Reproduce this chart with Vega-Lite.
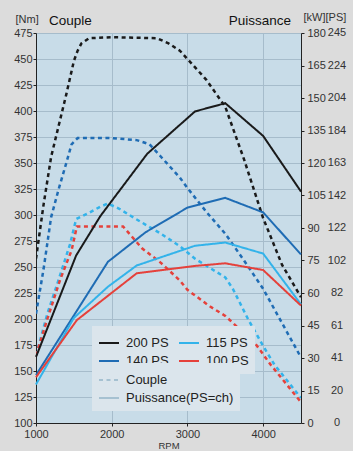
{
  "$schema": "https://vega.github.io/schema/vega-lite/v6.json",
  "width": 265,
  "height": 390,
  "autosize": {"type": "none"},
  "padding": {"left": 36, "top": 33, "right": 52, "bottom": 28},
  "background": "#dcdcdc",
  "config": {
    "view": {"fill": "#c8dce8", "stroke": null},
    "font": "Liberation Sans",
    "axis": {
      "labelFont": "Liberation Sans", "labelFontSize": 11, "labelColor": "#333333",
      "domainColor": "#222222", "tickColor": "#222222", "gridColor": "#a6bccb",
      "tickSize": 3, "titleFont": "Liberation Sans", "titleFontWeight": "normal", "titleColor": "#333333",
      "labelOverlap": false
    },
    "legend": {"labelFont": "Liberation Sans"}
  },
  "datasets": {
    "curves": [
      {"series": "200 PS", "type": "Couple", "rpm": 1000, "value": 258},
      {"series": "200 PS", "type": "Couple", "rpm": 1100, "value": 310},
      {"series": "200 PS", "type": "Couple", "rpm": 1200, "value": 356},
      {"series": "200 PS", "type": "Couple", "rpm": 1300, "value": 386},
      {"series": "200 PS", "type": "Couple", "rpm": 1400, "value": 416},
      {"series": "200 PS", "type": "Couple", "rpm": 1500, "value": 448},
      {"series": "200 PS", "type": "Couple", "rpm": 1550, "value": 458},
      {"series": "200 PS", "type": "Couple", "rpm": 1600, "value": 465},
      {"series": "200 PS", "type": "Couple", "rpm": 1700, "value": 470},
      {"series": "200 PS", "type": "Couple", "rpm": 2000, "value": 471},
      {"series": "200 PS", "type": "Couple", "rpm": 2600, "value": 470},
      {"series": "200 PS", "type": "Couple", "rpm": 2750, "value": 465},
      {"series": "200 PS", "type": "Couple", "rpm": 2900, "value": 458},
      {"series": "200 PS", "type": "Couple", "rpm": 3000, "value": 450},
      {"series": "200 PS", "type": "Couple", "rpm": 3250, "value": 430},
      {"series": "200 PS", "type": "Couple", "rpm": 3500, "value": 404},
      {"series": "200 PS", "type": "Couple", "rpm": 3750, "value": 353},
      {"series": "200 PS", "type": "Couple", "rpm": 4000, "value": 297},
      {"series": "200 PS", "type": "Couple", "rpm": 4250, "value": 252},
      {"series": "200 PS", "type": "Couple", "rpm": 4500, "value": 221},
      {"series": "140 PS", "type": "Couple", "rpm": 1000, "value": 205},
      {"series": "140 PS", "type": "Couple", "rpm": 1100, "value": 248},
      {"series": "140 PS", "type": "Couple", "rpm": 1200, "value": 298},
      {"series": "140 PS", "type": "Couple", "rpm": 1300, "value": 325},
      {"series": "140 PS", "type": "Couple", "rpm": 1400, "value": 350},
      {"series": "140 PS", "type": "Couple", "rpm": 1470, "value": 368},
      {"series": "140 PS", "type": "Couple", "rpm": 1550, "value": 374},
      {"series": "140 PS", "type": "Couple", "rpm": 2000, "value": 374},
      {"series": "140 PS", "type": "Couple", "rpm": 2330, "value": 372},
      {"series": "140 PS", "type": "Couple", "rpm": 2500, "value": 368},
      {"series": "140 PS", "type": "Couple", "rpm": 2650, "value": 356},
      {"series": "140 PS", "type": "Couple", "rpm": 2900, "value": 336},
      {"series": "140 PS", "type": "Couple", "rpm": 3000, "value": 326},
      {"series": "140 PS", "type": "Couple", "rpm": 3250, "value": 303},
      {"series": "140 PS", "type": "Couple", "rpm": 3500, "value": 282},
      {"series": "140 PS", "type": "Couple", "rpm": 3750, "value": 256},
      {"series": "140 PS", "type": "Couple", "rpm": 4000, "value": 229},
      {"series": "140 PS", "type": "Couple", "rpm": 4250, "value": 196},
      {"series": "140 PS", "type": "Couple", "rpm": 4500, "value": 163},
      {"series": "115 PS", "type": "Couple", "rpm": 1000, "value": 165},
      {"series": "115 PS", "type": "Couple", "rpm": 1150, "value": 205},
      {"series": "115 PS", "type": "Couple", "rpm": 1300, "value": 238},
      {"series": "115 PS", "type": "Couple", "rpm": 1450, "value": 272},
      {"series": "115 PS", "type": "Couple", "rpm": 1530, "value": 296},
      {"series": "115 PS", "type": "Couple", "rpm": 1700, "value": 302},
      {"series": "115 PS", "type": "Couple", "rpm": 1850, "value": 308},
      {"series": "115 PS", "type": "Couple", "rpm": 1950, "value": 311},
      {"series": "115 PS", "type": "Couple", "rpm": 2100, "value": 306},
      {"series": "115 PS", "type": "Couple", "rpm": 2300, "value": 297},
      {"series": "115 PS", "type": "Couple", "rpm": 2650, "value": 282},
      {"series": "115 PS", "type": "Couple", "rpm": 2900, "value": 270},
      {"series": "115 PS", "type": "Couple", "rpm": 3100, "value": 258},
      {"series": "115 PS", "type": "Couple", "rpm": 3500, "value": 240},
      {"series": "115 PS", "type": "Couple", "rpm": 3600, "value": 229},
      {"series": "115 PS", "type": "Couple", "rpm": 3800, "value": 200},
      {"series": "115 PS", "type": "Couple", "rpm": 4000, "value": 174},
      {"series": "115 PS", "type": "Couple", "rpm": 4150, "value": 156},
      {"series": "115 PS", "type": "Couple", "rpm": 4500, "value": 124},
      {"series": "100 PS", "type": "Couple", "rpm": 1000, "value": 165},
      {"series": "100 PS", "type": "Couple", "rpm": 1150, "value": 200},
      {"series": "100 PS", "type": "Couple", "rpm": 1320, "value": 238},
      {"series": "100 PS", "type": "Couple", "rpm": 1470, "value": 266},
      {"series": "100 PS", "type": "Couple", "rpm": 1540, "value": 289},
      {"series": "100 PS", "type": "Couple", "rpm": 2150, "value": 289},
      {"series": "100 PS", "type": "Couple", "rpm": 2400, "value": 268},
      {"series": "100 PS", "type": "Couple", "rpm": 2650, "value": 254},
      {"series": "100 PS", "type": "Couple", "rpm": 2900, "value": 237},
      {"series": "100 PS", "type": "Couple", "rpm": 3000, "value": 228},
      {"series": "100 PS", "type": "Couple", "rpm": 3300, "value": 212},
      {"series": "100 PS", "type": "Couple", "rpm": 3500, "value": 203},
      {"series": "100 PS", "type": "Couple", "rpm": 3900, "value": 176},
      {"series": "100 PS", "type": "Couple", "rpm": 4100, "value": 156},
      {"series": "100 PS", "type": "Couple", "rpm": 4500, "value": 120},
      {"series": "200 PS", "type": "Puissance(PS=ch)", "rpm": 1000, "value": 30.5},
      {"series": "200 PS", "type": "Puissance(PS=ch)", "rpm": 1530, "value": 77.3},
      {"series": "200 PS", "type": "Puissance(PS=ch)", "rpm": 1850, "value": 95.5},
      {"series": "200 PS", "type": "Puissance(PS=ch)", "rpm": 2470, "value": 124.3},
      {"series": "200 PS", "type": "Puissance(PS=ch)", "rpm": 3100, "value": 143.8},
      {"series": "200 PS", "type": "Puissance(PS=ch)", "rpm": 3500, "value": 147.6},
      {"series": "200 PS", "type": "Puissance(PS=ch)", "rpm": 4000, "value": 132.5},
      {"series": "200 PS", "type": "Puissance(PS=ch)", "rpm": 4500, "value": 106.8},
      {"series": "140 PS", "type": "Puissance(PS=ch)", "rpm": 1000, "value": 22.1},
      {"series": "140 PS", "type": "Puissance(PS=ch)", "rpm": 1950, "value": 74.4},
      {"series": "140 PS", "type": "Puissance(PS=ch)", "rpm": 2450, "value": 88.1},
      {"series": "140 PS", "type": "Puissance(PS=ch)", "rpm": 3000, "value": 99.4},
      {"series": "140 PS", "type": "Puissance(PS=ch)", "rpm": 3500, "value": 103.9},
      {"series": "140 PS", "type": "Puissance(PS=ch)", "rpm": 4000, "value": 97.2},
      {"series": "140 PS", "type": "Puissance(PS=ch)", "rpm": 4500, "value": 77.8},
      {"series": "115 PS", "type": "Puissance(PS=ch)", "rpm": 1000, "value": 17.8},
      {"series": "115 PS", "type": "Puissance(PS=ch)", "rpm": 1500, "value": 48.5},
      {"series": "115 PS", "type": "Puissance(PS=ch)", "rpm": 1950, "value": 62.9},
      {"series": "115 PS", "type": "Puissance(PS=ch)", "rpm": 2330, "value": 72.7},
      {"series": "115 PS", "type": "Puissance(PS=ch)", "rpm": 3100, "value": 81.8},
      {"series": "115 PS", "type": "Puissance(PS=ch)", "rpm": 3500, "value": 83.3},
      {"series": "115 PS", "type": "Puissance(PS=ch)", "rpm": 4000, "value": 78.2},
      {"series": "115 PS", "type": "Puissance(PS=ch)", "rpm": 4500, "value": 54.7},
      {"series": "100 PS", "type": "Puissance(PS=ch)", "rpm": 1000, "value": 21.1},
      {"series": "100 PS", "type": "Puissance(PS=ch)", "rpm": 1540, "value": 47.5},
      {"series": "100 PS", "type": "Puissance(PS=ch)", "rpm": 2330, "value": 69.1},
      {"series": "100 PS", "type": "Puissance(PS=ch)", "rpm": 3100, "value": 72.5},
      {"series": "100 PS", "type": "Puissance(PS=ch)", "rpm": 3500, "value": 73.7},
      {"series": "100 PS", "type": "Puissance(PS=ch)", "rpm": 4000, "value": 70.6},
      {"series": "100 PS", "type": "Puissance(PS=ch)", "rpm": 4500, "value": 54.2}
    ],
    "psLabels": [
      {"kW": 0, "PS": "0"}, {"kW": 15, "PS": "20"}, {"kW": 30, "PS": "41"},
      {"kW": 45, "PS": "61"}, {"kW": 60, "PS": "82"}, {"kW": 75, "PS": "102"},
      {"kW": 90, "PS": "122"}, {"kW": 105, "PS": "142"}, {"kW": 120, "PS": "163"},
      {"kW": 135, "PS": "184"}, {"kW": 150, "PS": "204"}, {"kW": 165, "PS": "224"},
      {"kW": 180, "PS": "245"}
    ]
  },
  "layer": [
    {
      "data": {"name": "curves"},
      "transform": [{"filter": "datum.type === 'Couple'"}],
      "mark": {"type": "line", "strokeWidth": 2.5, "clip": true},
      "encoding": {
        "x": {
          "field": "rpm", "type": "quantitative",
          "scale": {"domain": [1000, 4500], "nice": false},
          "axis": {
            "values": [1000, 1500, 2000, 2500, 3000, 3500, 4000, 4500],
            "format": "d", "labelOverlap": false,
            "grid": true, "title": "RPM", "titleFontSize": 9.5, "titlePadding": 1,
            "labelPadding": 2, "labelFlush": false
          }
        },
        "y": {
          "field": "value", "type": "quantitative",
          "scale": {"domain": [100, 475], "nice": false, "zero": false},
          "axis": {
            "orient": "left",
            "values": [100, 125, 150, 175, 200, 225, 250, 275, 300, 325, 350, 375, 400, 425, 450, 475],
            "labelOverlap": false, "labelFlush": false,
            "grid": true, "labelPadding": 1,
            "title": "[Nm]", "titleAngle": 0, "titleAlign": "left", "titleBaseline": "alphabetic",
            "titleX": -21, "titleY": -11, "titleFontSize": 11
          }
        },
        "color": {
          "field": "series", "type": "nominal",
          "scale": {
            "domain": ["200 PS", "140 PS", "115 PS", "100 PS"],
            "range": ["#1a1a1a", "#1f6cb4", "#33b3ea", "#e5413b"]
          },
          "legend": {
            "orient": "none", "legendX": 56, "legendY": 293, "columns": 2,
            "columnPadding": 6, "title": null, "symbolType": "stroke",
            "symbolSize": 400, "symbolStrokeWidth": 2, "symbolDash": [],
            "labelFontSize": 13, "labelColor": "#222222", "labelOffset": 6,
            "fillColor": "#dbe5ec", "strokeColor": null, "padding": 6, "rowPadding": -7
          }
        },
        "strokeDash": {
          "field": "type", "type": "nominal",
          "scale": {"domain": ["Couple", "Puissance(PS=ch)"], "range": [[4, 3.5], [1, 0]]},
          "legend": {
            "orient": "none", "legendX": 56, "legendY": 330, "title": null,
            "symbolType": "stroke", "symbolSize": 400, "symbolStrokeWidth": 2,
            "symbolStrokeColor": "#a6c1d1", "labelFontSize": 13, "labelColor": "#222222",
            "labelOffset": 6, "fillColor": "#dbe5ec", "strokeColor": null,
            "padding": 6, "rowPadding": -6
          }
        },
        "order": {"field": "rpm"}
      }
    },
    {
      "data": {"name": "curves"},
      "transform": [{"filter": "datum.type !== 'Couple'"}],
      "mark": {"type": "line", "strokeWidth": 2},
      "encoding": {
        "x": {"field": "rpm", "type": "quantitative"},
        "y": {
          "field": "value", "type": "quantitative",
          "scale": {"domain": [0, 180], "nice": false},
          "axis": {
            "orient": "right",
            "values": [0, 15, 30, 45, 60, 75, 90, 105, 120, 135, 150, 165, 180],
            "labelOverlap": false, "labelFlush": false,
            "grid": false, "labelAlign": "left", "labelPadding": 3,
            "title": "[kW][PS]", "titleAngle": 0, "titleAlign": "left", "titleBaseline": "alphabetic",
            "titleX": 2, "titleY": -13, "titleFontSize": 11
          }
        },
        "color": {"field": "series", "type": "nominal"},
        "strokeDash": {"field": "type", "type": "nominal"},
        "order": {"field": "rpm"}
      }
    },
    {
      "data": {"name": "psLabels"},
      "mark": {"type": "text", "align": "center", "baseline": "middle", "dx": 36, "fontSize": 11, "color": "#333333"},
      "encoding": {
        "x": {"datum": 4500, "type": "quantitative"},
        "y": {"field": "kW", "type": "quantitative", "scale": {"domain": [0, 180], "nice": false}, "axis": null},
        "text": {"field": "PS"}
      }
    },
    {
      "data": {"values": [{"label": "Couple"}]},
      "mark": {"type": "text", "align": "left", "baseline": "alphabetic", "dx": 13, "dy": -8, "fontSize": 13.5, "color": "#111111"},
      "encoding": {
        "x": {"datum": 1000, "type": "quantitative"},
        "y": {"datum": 475, "type": "quantitative", "scale": {"domain": [100, 475], "nice": false, "zero": false}, "axis": null},
        "text": {"field": "label"}
      }
    },
    {
      "data": {"values": [{"label": "Puissance"}]},
      "mark": {"type": "text", "align": "right", "baseline": "alphabetic", "dx": -10, "dy": -8, "fontSize": 13.5, "color": "#111111"},
      "encoding": {
        "x": {"datum": 4500, "type": "quantitative"},
        "y": {"datum": 475, "type": "quantitative", "scale": {"domain": [100, 475], "nice": false, "zero": false}, "axis": null},
        "text": {"field": "label"}
      }
    }
  ],
  "resolve": {"scale": {"y": "independent"}}
}
